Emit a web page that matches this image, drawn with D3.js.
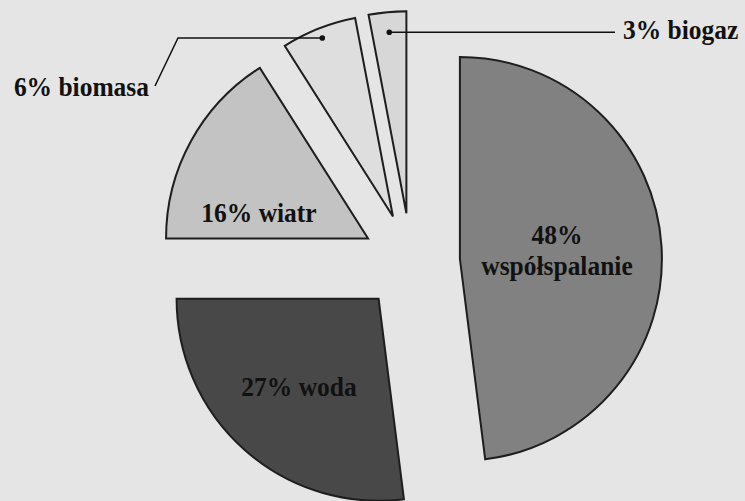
<!DOCTYPE html>
<html>
<head>
<meta charset="utf-8">
<script src="https://cdn.jsdelivr.net/npm/d3@7"></script>
<style>
  html, body { margin: 0; padding: 0; background: #e5e5e5; }
  svg { display: block; }
  text { font-family: "Liberation Serif", "Times New Roman", serif; font-weight: bold; fill: #111; }
</style>
</head>
<body>
<svg id="chart" width="745" height="501"></svg>
<script>
// Struktura produkcji energii z OZE
const categories = ["współspalanie", "woda", "wiatr", "biomasa", "biogaz"];
const values = [48, 27, 16, 6, 3];
const colors = ["#818181", "#484848", "#c3c3c3", "#dedede", "#d7d7d7"];

// Layout
const W = 745, H = 501;
const cx = 411, cy = 262;     // pie centre
const R = 202;                // radius
const explode = 49;           // distance each slice is pulled out
const fontSize = 28;          // narrow, tall bold serif
const fontStretch = 0.91;
const lineGap = 31;

// Label placement (relative to the pie centre); leader-line slices get callouts
const insideLabels = {
  "współspalanie": { dx: 146, dy: -18, lines: 2 },
  "woda":          { dx: -112, dy: 134, lines: 1 },
  "wiatr":         { dx: -152, dy: -40, lines: 1 }
};
const callouts = {
  "biomasa": { dotR: 0.95, elbowX: 178, endX: 155, endY: 86, textX: 149, textY: 96, anchor: "end" },
  "biogaz":  { dotR: 0.90, endX: 615, textX: 623, textY: 39, anchor: "start" }
};

const data = categories.map((c, i) => ({ name: c, value: values[i], color: colors[i] }));

const svg = d3.select("#chart");
svg.append("rect").attr("width", W).attr("height", H).attr("fill", "#e5e5e5");

const pie = d3.pie().sort(null).value(d => d.value).startAngle(0).endAngle(2 * Math.PI);
const arc = d3.arc().innerRadius(0).outerRadius(R);
const arcs = pie(data);

const offset = a => {
  const m = (a.startAngle + a.endAngle) / 2;
  return [explode * Math.sin(m), -explode * Math.cos(m)];
};

const g = svg.append("g").attr("transform", `translate(${cx},${cy})`);

g.selectAll("path.slice")
  .data(arcs)
  .join("path")
  .attr("class", "slice")
  .attr("transform", d => { const [x, y] = offset(d); return `translate(${x},${y})`; })
  .attr("d", arc)
  .attr("fill", d => d.data.color)
  .attr("stroke", "#1e1e1e")
  .attr("stroke-width", 2)
  .attr("stroke-linejoin", "miter");

// Narrow label text placed at (x, y)
function label(parent, x, y, anchor) {
  return parent.append("text")
    .attr("transform", `translate(${x},${y}) scale(${fontStretch},1)`)
    .attr("text-anchor", anchor)
    .attr("font-size", fontSize);
}

// Labels inside the larger slices
arcs.forEach(a => {
  const cfg = insideLabels[a.data.name];
  if (!cfg) return;
  if (cfg.lines === 2) {
    label(g, cfg.dx, cfg.dy, "middle").text(`${a.data.value}%`);
    label(g, cfg.dx, cfg.dy + lineGap, "middle").text(a.data.name);
  } else {
    label(g, cfg.dx, cfg.dy, "middle").text(`${a.data.value}% ${a.data.name}`);
  }
});

// Callouts for the small slices
arcs.forEach(a => {
  const cfg = callouts[a.data.name];
  if (!cfg) return;
  const [ox, oy] = offset(a);
  const m = (a.startAngle + a.endAngle) / 2;
  const px = cx + ox + cfg.dotR * R * Math.sin(m);
  const py = cy + oy - cfg.dotR * R * Math.cos(m);
  const pts = cfg.elbowX !== undefined
    ? [[px, py], [cfg.elbowX, py], [cfg.endX, cfg.endY]]
    : [[px, py], [cfg.endX, py]];
  svg.append("path")
    .attr("d", d3.line()(pts))
    .attr("fill", "none")
    .attr("stroke", "#111")
    .attr("stroke-width", 1.5);
  svg.append("circle").attr("cx", px).attr("cy", py).attr("r", 2.8).attr("fill", "#111");
  label(svg, cfg.textX, cfg.textY, cfg.anchor).text(`${a.data.value}% ${a.data.name}`);
});
</script>
</body>
</html>
